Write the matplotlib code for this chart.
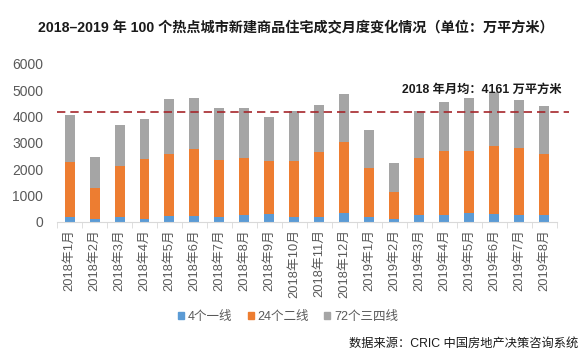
import matplotlib.pyplot as plt
from matplotlib.patches import Patch
import numpy as np

plt.rcParams['font.family'] = ['Liberation Sans', 'Noto Sans CJK SC']

months = ['2018年1月', '2018年2月', '2018年3月', '2018年4月', '2018年5月', '2018年6月',
          '2018年7月', '2018年8月', '2018年9月', '2018年10月', '2018年11月', '2018年12月',
          '2019年1月', '2019年2月', '2019年3月', '2019年4月', '2019年5月', '2019年6月',
          '2019年7月', '2019年8月']
tier1 = [177, 100, 177, 126, 215, 215, 200, 265, 290, 177, 177, 328,
         200, 100, 250, 250, 328, 290, 250, 250]
tier2_top = [2260, 1275, 2110, 2375, 2563, 2752, 2350, 2410, 2300, 2300, 2650, 3018,
             2045, 1124, 2410, 2677, 2677, 2879, 2790, 2563]
total = [4070, 2450, 3690, 3915, 4670, 4710, 4330, 4330, 3990, 4217, 4444, 4874,
         3472, 2222, 4217, 4558, 4710, 4950, 4634, 4406]
avg_2018 = 4161

tier1 = np.array(tier1)
tier2 = np.array(tier2_top) - tier1
tier3 = np.array(total) - np.array(tier2_top)

fig = plt.figure(figsize=(5.88, 3.59), dpi=100)
ax = fig.add_axes([0.097, 0.382, 0.85, 0.44])

x = np.arange(len(months))
w = 0.4
c1, c2, c3 = '#5B9BD5', '#ED7D31', '#A5A5A5'
ax.bar(x, tier1, w, color=c1)
ax.bar(x, tier2, w, bottom=tier1, color=c2)
ax.bar(x, tier3, w, bottom=tier1 + tier2, color=c3)

ax.set_xlim(-0.5, len(months) - 0.5)
ax.set_ylim(0, 6000)
ax.set_yticks(range(0, 6001, 1000))
ax.tick_params(axis='y', length=0, labelsize=10, labelcolor='#595959', pad=10)

ax.set_xticks(x)
ax.set_xticklabels(months, rotation=90, fontsize=9.3, color='#595959')
ax.tick_params(axis='x', length=0, pad=5)
ax.set_xticks(np.arange(-0.5, len(months), 1), minor=True)
ax.tick_params(axis='x', which='minor', length=4, color='#D9D9D9')

for s in ['top', 'right', 'left']:
    ax.spines[s].set_visible(False)
ax.spines['bottom'].set_color('#D9D9D9')

# 2018 monthly average line
ax.plot([-0.5, 20.0], [avg_2018, avg_2018], ls=(0, (5, 3)), color='#A6262B',
        lw=1.2, clip_on=False)
ax.text(19.7, avg_2018 + 850, '2018 年月均：4161 万平方米', ha='right', va='center',
        fontsize=8.8, fontweight='bold', color='#1a1a1a')

fig.text(0.503, 0.92, '2018–2019 年 100 个热点城市新建商品住宅成交月度变化情况（单位：万平方米）',
         ha='center', va='center', fontsize=10.2, fontweight='bold', color='#1a1a1a')

handles = [Patch(color=c1), Patch(color=c2), Patch(color=c3)]
fig.legend(handles, ['4个一线', '24个二线', '72个三四线'], loc='center',
           bbox_to_anchor=(0.49, 0.117), ncol=3, frameon=False, fontsize=9,
           handlelength=0.5, handleheight=0.5, handletextpad=0.3, columnspacing=1.2,
           labelcolor='#595959')

fig.text(0.983, 0.042, '数据来源：CRIC 中国房地产决策咨询系统', ha='right', va='center',
         fontsize=8.8, color='#1a1a1a')

fig.savefig('out.png', dpi=100, facecolor='white')
